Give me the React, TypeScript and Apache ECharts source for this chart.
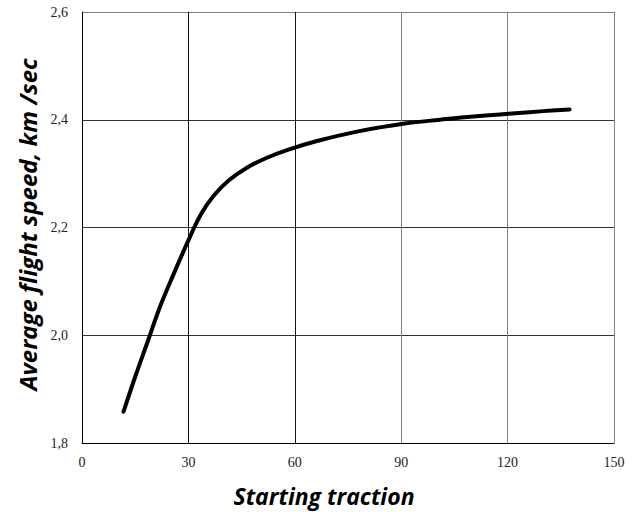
import React, { useEffect, useRef } from "react";
import * as echarts from "echarts";

const xTitle = "Starting traction";
const yTitle = "Average flight speed, km /sec";

const tractionValues = [11.7, 15, 18.5, 22, 25.8, 30, 33.5, 37, 41.5, 46.5, 52, 58, 66, 77.5, 91, 101, 110.4, 122.2, 130.1, 137.5];
const speedValues = [1.858, 1.923, 1.988, 2.053, 2.113, 2.176, 2.224, 2.258, 2.288, 2.311, 2.329, 2.344, 2.36, 2.378, 2.393, 2.4, 2.406, 2.412, 2.416, 2.419];

const xMin = 0;
const xMax = 150;
const xStep = 30;
const yMin = 1.8;
const yMax = 2.6;
const yStep = 0.2;

export default function App() {
  const ref = useRef<HTMLDivElement>(null);
  useEffect(() => {
    if (!ref.current) return;
    const chart = echarts.init(ref.current, null, { renderer: "svg" });
    const data = tractionValues.map((x, i) => [x, speedValues[i]]);
    chart.setOption({
      animation: false,
      backgroundColor: "#ffffff",
      grid: { left: 82, right: 18, top: 12, bottom: 69, containLabel: false },
      xAxis: {
        type: "value",
        min: xMin,
        max: xMax,
        interval: xStep,
        name: xTitle,
        nameLocation: "middle",
        nameGap: 41,
        nameTextStyle: {
          fontFamily: "Open Sans",
          fontWeight: "bold",
          fontStyle: "italic",
          fontSize: 23,
          color: "#000",
          padding: [0, 48, 0, 0],
        },
        axisLine: { show: true, lineStyle: { color: "#000", width: 1 } },
        axisTick: { show: false },
        axisLabel: {
          fontFamily: "Liberation Serif",
          fontSize: 14,
          color: "#222",
          margin: 12,
        },
        splitLine: {
          show: true,
          lineStyle: { color: ["#000", "#111", "#111", "#808080", "#808080", "#808080"], width: 1 },
        },
      },
      yAxis: {
        type: "value",
        min: yMin,
        max: yMax,
        interval: yStep,
        name: yTitle,
        nameLocation: "middle",
        nameGap: 39,
        nameTextStyle: {
          fontFamily: "Open Sans",
          fontWeight: "bold",
          fontStyle: "italic",
          fontSize: 24,
          color: "#000",
          padding: [0, 0, 0, 6],
        },
        axisLine: { show: true, lineStyle: { color: "#000", width: 1 } },
        axisTick: { show: false },
        axisLabel: {
          fontFamily: "Liberation Serif",
          fontSize: 14,
          color: "#222",
          margin: 14,
          formatter: (v: number) => v.toFixed(1).replace(".", ","),
        },
        splitLine: {
          show: true,
          lineStyle: { color: ["#000", "#333", "#333", "#333", "#808080"], width: 1 },
        },
      },
      series: [
        {
          type: "line",
          data,
          smooth: 0.4,
          symbol: "none",
          lineStyle: { color: "#000", width: 4, cap: "round", join: "round" },
        },
      ],
    });
    return () => chart.dispose();
  }, []);
  return (
    <div
      ref={ref}
      style={{ position: "fixed", left: 0, top: 0, width: 632, height: 512, background: "#fff" }}
    />
  );
}
